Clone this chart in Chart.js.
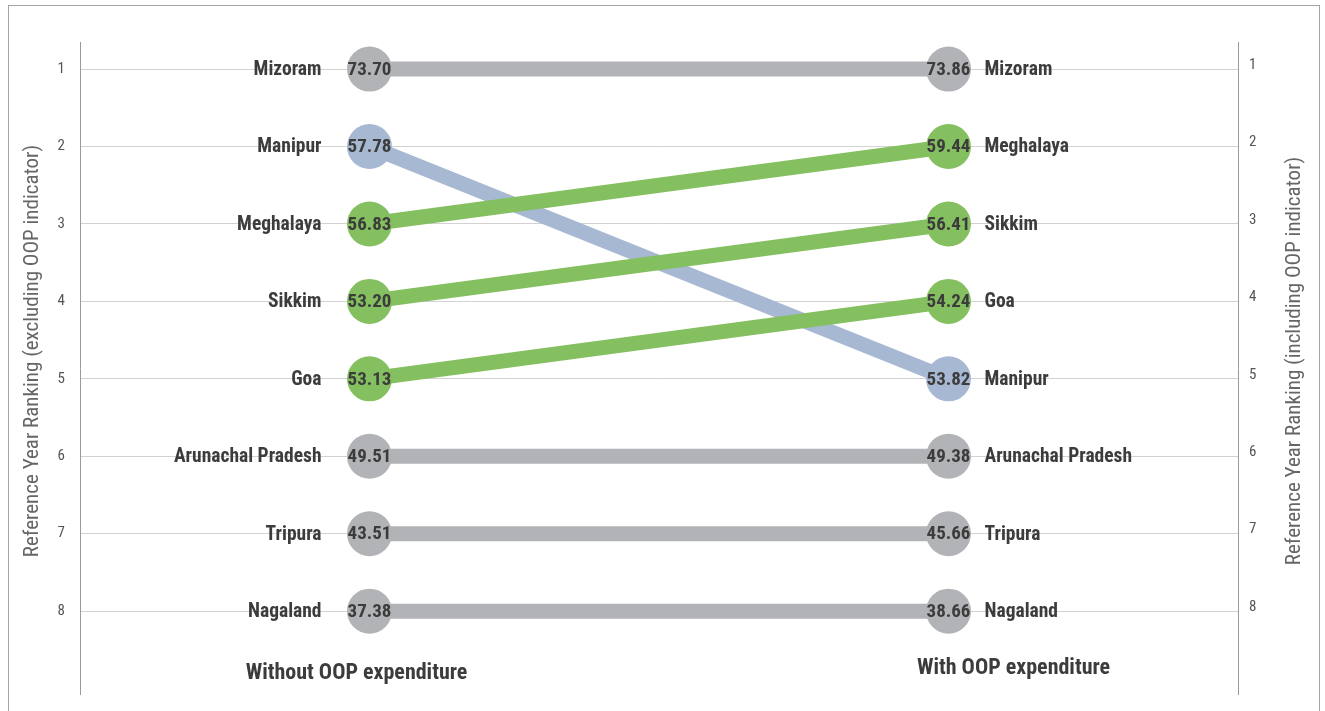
<!DOCTYPE html>
<html lang="en">
<head>
    <meta charset="UTF-8">
    <title>Reference Year Ranking</title>
    <script src="https://cdn.jsdelivr.net/npm/chart.js"></script>
    <style>
        body { margin: 0; background: #fff; }
        #wrap { position: relative; width: 1325px; height: 711px; overflow: hidden; }
        /* canvas box is a bit taller than the window; the chart keeps ~24px below its area */
        #box { position: absolute; left: 0; top: 0; width: 1325px; height: 718px; }
        #frame { position: absolute; left: 8px; top: 5px; width: 1310px; height: 740px; border: 1px solid #a3a3a3; pointer-events: none; }
    </style>
</head>
<body>
<div id="wrap">
    <div id="box"><canvas id="slope"></canvas></div>
    <div id="frame"></div>
</div>

<script>
    // states in order of left rank
    const states = ['Mizoram', 'Manipur', 'Meghalaya', 'Sikkim', 'Goa', 'Arunachal Pradesh', 'Tripura', 'Nagaland'];
    const rankWithout = [1, 2, 3, 4, 5, 6, 7, 8];
    const rankWith = [1, 5, 2, 3, 4, 6, 7, 8];
    const scoreWithout = ['73.70', '57.78', '56.83', '53.20', '53.13', '49.51', '43.51', '37.38'];
    const scoreWith = ['73.86', '53.82', '59.44', '56.41', '54.24', '49.38', '45.66', '38.66'];
    const rankTicks = [1, 2, 3, 4, 5, 6, 7, 8];
    const columnLabels = ['Without OOP expenditure', 'With OOP expenditure'];
    const leftTitle = 'Reference Year Ranking (excluding OOP indicator)';
    const rightTitle = 'Reference Year Ranking (including OOP indicator)';

    const GREY = '#b1b3b6', BLUE = '#a7b8d2', GREEN = '#84bf60';
    const NARROW = "'Liberation Sans Narrow', 'Arial Narrow', 'Roboto Condensed', sans-serif";

    function colorFor(i) {
        if (rankWith[i] < rankWithout[i]) return GREEN;
        if (rankWith[i] > rankWithout[i]) return BLUE;
        return GREY;
    }

    // greens drawn on top of the blue line -> put the blue one last
    const order = states.map((s, i) => i).sort((a, b) => (colorFor(a) === BLUE) - (colorFor(b) === BLUE));

    const datasets = order.map(i => ({
        label: states[i],
        idx: i,
        data: [{ x: 0, y: rankWithout[i] }, { x: 1, y: rankWith[i] }],
        borderColor: colorFor(i),
        backgroundColor: colorFor(i),
        borderWidth: 15,
        borderCapStyle: 'butt',
        pointRadius: 22.5,
        pointHoverRadius: 22.5,
        pointBorderWidth: 0,
        showLine: true
    }));

    const textPlugin = {
        id: 'slopeText',
        afterDatasetsDraw(chart) {
            const ctx = chart.ctx;
            const area = chart.chartArea;
            ctx.save();
            ctx.textBaseline = 'middle';
            chart.data.datasets.forEach((ds, d) => {
                const pts = chart.getDatasetMeta(d).data;
                const i = ds.idx;
                ctx.fillStyle = '#3c3c3c';
                ctx.font = 'bold 19px ' + NARROW;
                ctx.textAlign = 'center';
                ctx.fillText(scoreWithout[i], pts[0].x, pts[0].y + 1);
                ctx.fillText(scoreWith[i], pts[1].x, pts[1].y + 1);
                ctx.font = 'bold 19.5px ' + NARROW;
                ctx.textAlign = 'right';
                ctx.fillText(states[i], pts[0].x - 48, pts[0].y + 1);
                ctx.textAlign = 'left';
                ctx.fillText(states[i], pts[1].x + 36, pts[1].y + 1);
            });

            const xs = chart.scales.x;
            ctx.font = 'bold 22px ' + NARROW;
            ctx.textAlign = 'center';
            ctx.fillText(columnLabels[0], xs.getPixelForValue(0) - 13, area.bottom - 21);
            ctx.fillText(columnLabels[1], xs.getPixelForValue(1) + 65, area.bottom - 26);

            ctx.fillStyle = '#666';
            ctx.font = '21px ' + NARROW;
            ctx.save();
            ctx.translate(area.left - 47, (area.top + area.bottom) / 2 - 17);
            ctx.rotate(-Math.PI / 2);
            ctx.fillText(leftTitle, 0, 0);
            ctx.restore();
            ctx.save();
            ctx.translate(area.right + 57, (area.top + area.bottom) / 2 - 7);
            ctx.rotate(-Math.PI / 2);
            ctx.fillText(rightTitle, 0, 0);
            ctx.restore();
            ctx.restore();
        }
    };

    const setTicks = axis => { axis.ticks = rankTicks.map(v => ({ value: v })); };

    new Chart(document.getElementById('slope'), {
        type: 'scatter',
        data: { datasets: datasets },
        plugins: [textPlugin],
        options: {
            responsive: true,
            maintainAspectRatio: false,
            animation: false,
            events: [],
            layout: { padding: { top: 42, bottom: 17, left: 0, right: 0 } },
            plugins: { legend: { display: false }, tooltip: { enabled: false } },
            scales: {
                x: { type: 'linear', min: -0.5, max: 1.5, display: false },
                y: {
                    position: 'left', reverse: true, min: 0.65, max: 9.07,
                    afterBuildTicks: setTicks,
                    afterFit: axis => { axis.width = 80; },
                    grid: { color: '#d2d2d2', lineWidth: 1, drawTicks: false },
                    border: { display: true, color: '#9a9a9a', width: 1 },
                    ticks: { padding: 15, color: '#555', font: { family: NARROW, size: 15 } }
                },
                y2: {
                    position: 'right', reverse: true, min: 0.65, max: 9.07,
                    afterBuildTicks: setTicks,
                    afterFit: axis => { axis.width = 87; },
                    grid: { drawOnChartArea: false, drawTicks: false },
                    border: { display: true, color: '#9a9a9a', width: 1 },
                    ticks: { padding: 11, labelOffset: -4, color: '#555', font: { family: NARROW, size: 15 } }
                }
            }
        }
    });
</script>
</body>
</html>
